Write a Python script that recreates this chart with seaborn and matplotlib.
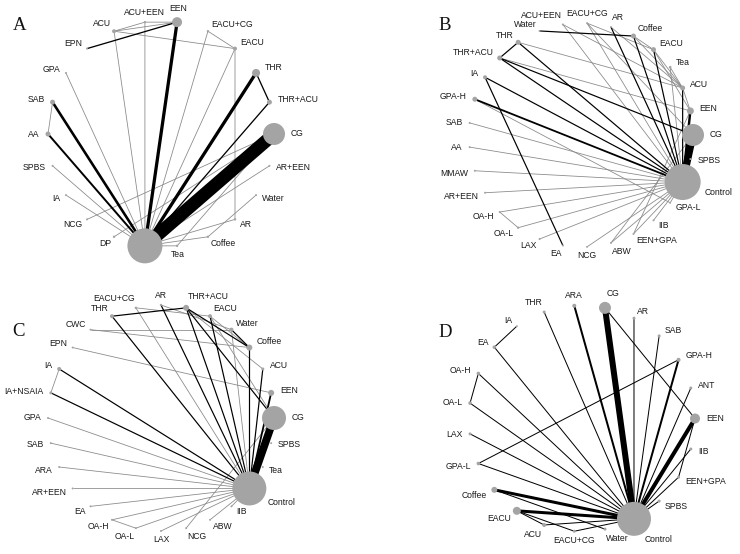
import numpy as np
import pandas as pd
import matplotlib
matplotlib.use("Agg")
import matplotlib.pyplot as plt
import seaborn as sns

sns.set_theme(style="white")
plt.rcParams['font.family'] = ['Liberation Sans', 'DejaVu Sans']

# ---------------- data ----------------
# nodes listed clockwise around each network circle; weights = relative node size
A_nodes = ["EEN", "EACU+CG", "EACU", "THR", "THR+ACU", "CG", "AR+EEN", "Water", "AR", "Coffee",
           "Tea", "Control", "DP", "NCG", "IA", "SPBS", "AA", "SAB", "GPA", "EPN", "ACU", "ACU+EEN"]
A_weight = [5, 1.2, 2, 4, 2.5, 11, 1, 1, 1.2, 1.2, 1.2, 17.5, 1.2, 1, 1, 1, 2.5, 2.5, 1, 1, 2, 1.2]
A_edges = [("EPN", "EEN", 2), ("ACU", "EEN", 1), ("ACU", "ACU+EEN", 1), ("ACU+EEN", "EEN", 1),
           ("ACU", "EACU", 1), ("ACU", "Control", 1), ("ACU+EEN", "Control", 1), ("EEN", "Control", 5),
           ("EACU+CG", "EACU", 1), ("EACU+CG", "Control", 1), ("EACU", "Control", 1), ("EACU", "AR", 1),
           ("THR", "Control", 5), ("THR", "THR+ACU", 2), ("THR+ACU", "Control", 2), ("CG", "Control", 20),
           ("AR+EEN", "Control", 1), ("Water", "Coffee", 1), ("AR", "Control", 1), ("Coffee", "Control", 1),
           ("Tea", "Control", 1), ("Tea", "CG", 1), ("NCG", "CG", 1), ("DP", "CG", 1), ("GPA", "Control", 1),
           ("SAB", "Control", 4), ("SAB", "AA", 1), ("AA", "Control", 3), ("SPBS", "Control", 1),
           ("IA", "Control", 1)]

B_nodes = ["EACU+CG", "AR", "Coffee", "EACU", "Tea", "ACU", "EEN", "CG", "SPBS", "Control", "GPA-L",
           "IIB", "EEN+GPA", "ABW", "NCG", "EA", "LAX", "OA-L", "OA-H", "AR+EEN", "MMAW", "AA", "SAB",
           "GPA-H", "IA", "THR+ACU", "THR", "Water", "ACU+EEN"]
B_weight = [1, 1, 2.5, 2.5, 1.3, 2.5, 3.5, 11, 1, 18, 1, 1, 1, 1, 1, 1, 1, 1.2, 1, 1, 1, 1, 1,
            2.5, 2, 2.5, 2.5, 1, 1]
B_edges = [("Water", "Coffee", 2), ("THR", "THR+ACU", 2), ("THR", "Control", 2), ("THR", "ACU", 1),
           ("THR+ACU", "Control", 2), ("THR+ACU", "CG", 2), ("THR+ACU", "EEN", 1), ("IA", "Control", 2),
           ("IA", "EA", 2), ("GPA-H", "Control", 3), ("GPA-H", "GPA-L", 1), ("SAB", "Control", 1),
           ("AA", "Control", 1), ("MMAW", "Control", 1), ("AR+EEN", "Control", 1), ("OA-H", "Control", 1),
           ("OA-H", "OA-L", 1), ("OA-L", "Control", 1), ("LAX", "Control", 1), ("NCG", "Control", 1),
           ("ABW", "Control", 1), ("ABW", "CG", 1), ("EEN+GPA", "Control", 1), ("EEN+GPA", "EEN", 1),
           ("IIB", "Control", 1), ("GPA-L", "Control", 1), ("ACU+EEN", "ACU", 1), ("ACU+EEN", "Control", 1),
           ("EACU+CG", "EACU", 1), ("EACU+CG", "Control", 1), ("EACU+CG", "CG", 1), ("AR", "Control", 2),
           ("AR", "ACU", 1), ("Coffee", "EACU", 1), ("Coffee", "Control", 2), ("Coffee", "ACU", 1),
           ("EACU", "Control", 2), ("EACU", "ACU", 1), ("EACU", "EEN", 1), ("Tea", "Control", 1),
           ("Tea", "ACU", 1), ("ACU", "Control", 2), ("ACU", "EEN", 1), ("EEN", "Control", 4),
           ("CG", "Control", 12)]

C_nodes = ["AR", "THR+ACU", "EACU", "Water", "Coffee", "ACU", "EEN", "CG", "SPBS", "Tea", "Control",
           "IIB", "ABW", "NCG", "LAX", "OA-L", "OA-H", "EA", "AR+EEN", "ARA", "SAB", "GPA", "IA+NSAIA",
           "IA", "EPN", "CWC", "THR", "EACU+CG"]
C_weight = [1.2, 3, 2, 2, 3, 1.5, 3, 12, 1, 1, 17, 1, 1, 1, 1, 1, 1, 1, 1, 1, 1, 1, 1.5, 2, 1, 1, 2, 1.2]
C_edges = [("THR", "THR+ACU", 2), ("THR", "Control", 2), ("EACU+CG", "EACU", 1), ("EACU+CG", "Control", 1),
           ("AR", "Control", 2), ("AR", "Water", 1), ("THR+ACU", "Control", 2), ("THR+ACU", "Coffee", 2),
           ("THR+ACU", "ACU", 1), ("THR+ACU", "CG", 2), ("EACU", "Control", 2), ("EACU", "Coffee", 1),
           ("Water", "Coffee", 2), ("Water", "Control", 1), ("CWC", "Water", 1), ("CWC", "Coffee", 1),
           ("EPN", "EEN", 1), ("Coffee", "Control", 2), ("ACU", "Control", 2), ("EEN", "Control", 3),
           ("CG", "Control", 13), ("IA", "IA+NSAIA", 1), ("IA", "Control", 2), ("IA+NSAIA", "Control", 2),
           ("GPA", "Control", 1), ("SAB", "Control", 1), ("ARA", "Control", 1), ("AR+EEN", "Control", 1),
           ("EA", "Control", 1), ("OA-H", "Control", 1), ("OA-L", "Control", 1), ("OA-H", "OA-L", 1),
           ("LAX", "Control", 1), ("NCG", "CG", 1), ("ABW", "Control", 1), ("IIB", "Control", 1),
           ("EACU", "CG", 1)]

D_nodes = ["CG", "AR", "SAB", "GPA-H", "ANT", "EEN", "IIB", "EEN+GPA", "SPBS", "Control", "Water",
           "EACU+CG", "ACU", "EACU", "Coffee", "GPA-L", "LAX", "OA-L", "OA-H", "EA", "IA", "THR", "ARA"]
D_weight = [6, 1.5, 1.5, 2, 1.5, 5, 1.5, 1.5, 1.5, 17, 1.5, 1.5, 2, 4, 3, 1.8, 1.5, 1.8, 1.8, 1.8, 1, 1.5, 2]
D_edges = [("CG", "Control", 6), ("CG", "EEN", 1), ("ARA", "Control", 2), ("THR", "Control", 1),
           ("AR", "Control", 1), ("SAB", "Control", 1), ("GPA-H", "Control", 2), ("GPA-H", "GPA-L", 1),
           ("ANT", "Control", 1), ("EEN", "Control", 4), ("EEN", "EEN+GPA", 1), ("IIB", "Control", 1),
           ("EEN+GPA", "Control", 1), ("SPBS", "Control", 1), ("IA", "EA", 1), ("EA", "Control", 1),
           ("OA-H", "OA-L", 1), ("OA-H", "Control", 1), ("OA-L", "Control", 1), ("LAX", "Control", 1),
           ("GPA-L", "Control", 1), ("Coffee", "Control", 3), ("Coffee", "Water", 1),
           ("EACU", "Control", 3), ("EACU", "ACU", 1), ("EACU", "EACU+CG", 1), ("ACU", "Control", 1),
           ("EACU+CG", "Control", 1)]

panel_tags = ["A", "B", "C", "D"]

# ---------------- layout / style ----------------
PANELS = [
    dict(nodes=A_nodes, weight=A_weight, edges=A_edges, hidden={"Control"},
         cx=161, cy=134, r=113, start=8.18, unit=0.65, thin_black=False, tag_xy=(13, 30)),
    dict(nodes=B_nodes, weight=B_weight, edges=B_edges, hidden=set(),
         cx=581, cy=135, r=112, start=3.1, unit=0.6, thin_black=False, tag_xy=(438, 30)),
    dict(nodes=C_nodes, weight=C_weight, edges=C_edges, hidden=set(),
         cx=161, cy=418, r=113, start=0.0, unit=0.6, thin_black=False, tag_xy=(12, 336)),
    dict(nodes=D_nodes, weight=D_weight, edges=D_edges, hidden=set(),
         cx=582, cy=418.5, r=113, start=11.74, unit=1.0, thin_black=True, tag_xy=(438, 337)),
]

W, H = 740, 554
fig = plt.figure(figsize=(W / 100, H / 100), dpi=100)
ax = fig.add_axes([0, 0, 1, 1])
PT = 72 / 100  # points per pixel
NODE_COL = "#a4a4a4"
THIN_GRAY = "#8a8a8a"

for tag, p in zip(panel_tags, PANELS):
    n = len(p["nodes"])
    ang = np.deg2rad(p["start"] + 360.0 * np.arange(n) / n)
    xs = p["cx"] + p["r"] * np.sin(ang)
    ys = p["cy"] - p["r"] * np.cos(ang)
    pos = {nm: (xs[i], ys[i]) for i, nm in enumerate(p["nodes"])}

    edf = pd.DataFrame(p["edges"], columns=["a", "b", "k"]).sort_values("k", kind="stable")
    for a, b, k in edf.itertuples(index=False):
        (xa, ya), (xb, yb) = pos[a], pos[b]
        if k == 1 and not p["thin_black"]:
            col, lw = THIN_GRAY, 0.8
        else:
            col, lw = "black", max(p["unit"] * k, 1.0)
        ax.plot([xa, xb], [ya, yb], color=col, lw=lw * PT, solid_capstyle="butt", zorder=1)

    wt = np.array(p["weight"], dtype=float)
    nd = pd.DataFrame({"x": xs, "y": ys})
    sns.scatterplot(data=nd, x="x", y="y", s=(2 * wt * PT) ** 2, color=NODE_COL,
                    edgecolor="none", linewidth=0, ax=ax, zorder=3, legend=False)

    for i, nm in enumerate(p["nodes"]):
        if nm in p["hidden"]:
            continue
        s_, c_ = np.sin(ang[i]), np.cos(ang[i])
        rn = wt[i]
        ha = "left" if s_ > 0.15 else ("right" if s_ < -0.15 else "center")
        if c_ > 0.93:
            va, d = "bottom", rn + 4
        elif c_ < -0.93:
            va, d = "top", rn + 3
        else:
            va, d = "center", rn + 6
        ax.text(xs[i] + s_ * d, ys[i] - c_ * d, nm, ha=ha, va=va, fontsize=6.2,
                color="#1a1a1a", zorder=4)

    ax.text(p["tag_xy"][0], p["tag_xy"][1], tag, ha="left", va="baseline",
            fontsize=13.5, family=["Liberation Serif", "DejaVu Serif"], color="#111111")

ax.set_xlim(0, W)
ax.set_ylim(H, 0)
ax.axis("off")
fig.savefig("out.png", dpi=100, facecolor="white")
